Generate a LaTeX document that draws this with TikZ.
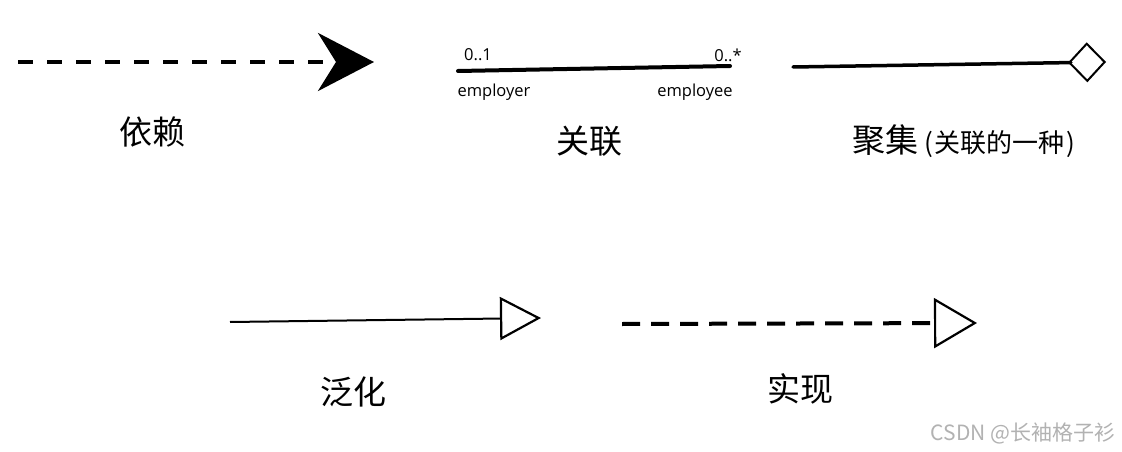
\documentclass[tikz,border=0pt]{standalone}
\usepackage{fontspec}
\setmainfont{Open Sans}
\newfontfamily\cjk{Noto Sans CJK SC}
\usetikzlibrary{arrows.meta}
\begin{document}
\begin{tikzpicture}[x=1pt,y=-1pt,
  biglabel/.style={font=\cjk\fontsize{33}{38}\selectfont, inner sep=0pt},
  smalllabel/.style={font=\fontsize{16.5}{18}\selectfont, inner sep=0pt},
  deparrow/.style={line width=4.5pt, dash pattern=on 15pt off 14pt,
     -{Stealth[length=56pt,width=58pt,inset=18pt]}},
  assocline/.style={line width=4pt, line cap=round},
  aggline/.style={line width=3.5pt, line cap=round,
     -{Diamond[open,length=38pt,width=40pt,line width=2pt]}},
  genline/.style={line width=2pt,
     -{Triangle[open,length=41pt,width=43pt,line width=2.2pt]}},
  realline/.style={line width=4pt, dash pattern=on 18pt off 11pt,
     -{Triangle[open,length=43pt,width=50pt,line width=2.2pt]}}
]
\useasboundingbox (0,0) rectangle (1122,452);
\fill[white] (0,0) rectangle (1122,452);

% dependency
\coordinate (d1) at (18,62);
\coordinate (d2) at (374,62);
\draw[deparrow] (d1) -- (d2);
\node[biglabel] (ldep) at (152,132) {依赖};

% association
\coordinate (a1) at (458,71);
\coordinate (a2) at (730,66);
\draw[assocline] (a1) -- (a2);
\node[smalllabel] (m1) at (478,55) {0..1};
\node[smalllabel] (m2) at (728,55) {0..*};
\node[smalllabel] (r1) at (494,92) {employer};
\node[smalllabel] (r2) at (695,92) {employee};
\node[biglabel] (lassoc) at (589,141) {关联};

% aggregation
\coordinate (g1) at (793,67);
\coordinate (g2) at (1106,62);
\draw[aggline] (g1) -- (g2);
\node[biglabel, anchor=west] (lagg) at (852,141) {聚集\hspace{6pt}{\fontsize{26}{30}\selectfont (\hspace{2pt}关联的一种\hspace{2pt})}};

% generalization
\coordinate (e1) at (230,322);
\coordinate (e2) at (541,318);
\draw[genline] (e1) -- (e2);
\node[biglabel] (lgen) at (353,392) {泛化};

% realization
\coordinate (z1) at (622,324);
\coordinate (z2) at (977,323);
\draw[realline] (z1) -- (z2);
\node[biglabel] (lreal) at (800,389) {实现};

% watermark
\node[font=\cjk\fontsize{21}{24}\selectfont, text=black!30, inner sep=0pt] (wm) at (1023,433) {CSDN @长袖格子衫};
\end{tikzpicture}
\end{document}
